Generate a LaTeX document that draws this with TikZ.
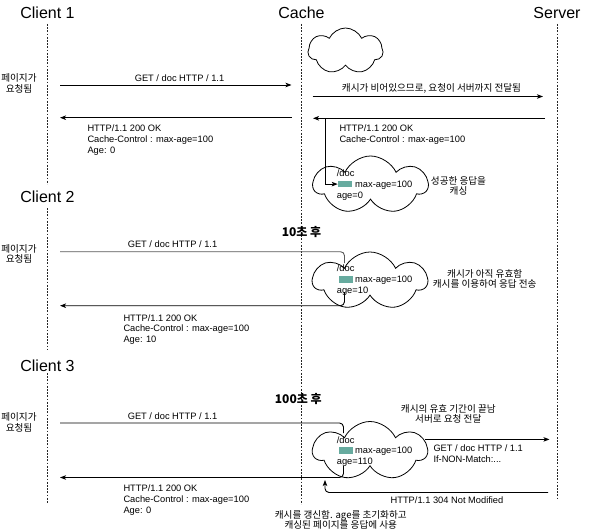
\documentclass[tikz,border=0pt]{standalone}
\usepackage{fontspec}
\setmainfont{Liberation Sans}
\newfontfamily\kr{Noto Sans CJK KR}
\usetikzlibrary{arrows.meta,shapes.symbols}
\definecolor{docgreen}{HTML}{67AB9F}
\tikzset{
  life/.style={draw=black!85, line width=0.6pt, dash pattern=on 1.8pt off 1.4pt},
  title/.style={font=\fontsize{16}{18}\selectfont, inner sep=0, anchor=base},
  lbl/.style={font=\fontsize{9.3}{11}\selectfont, inner sep=0, anchor=base west},
  clbl/.style={font=\fontsize{9.3}{11}\selectfont, inner sep=0, anchor=base},
  klbl/.style={font=\kr\fontsize{9.6}{11}\selectfont, inner sep=0, anchor=base},
  kbold/.style={font=\kr\bfseries\fontsize{12}{14}\selectfont, inner sep=0, anchor=base},
  tip/.style={-{Stealth[length=6pt,width=4.5pt,inset=1.5pt]}},
  msg/.style={draw=black, line width=0.9pt, tip},
  conn/.style={draw=black, line width=0.9pt},
  ccloud/.style={cloud, cloud puffs=7, cloud puff arc=130, cloud ignores aspect, draw=black, line width=0.8pt, fill=white, inner sep=0},
  docrect/.style={fill=docgreen, draw=none, minimum width=14pt, minimum height=6.8pt, inner sep=0, anchor=south west}
}
\begin{document}
\begin{tikzpicture}[x=1pt,y=-1pt]
\path[use as bounding box, fill=white] (0,0) rectangle (600,532);

% titles
\node[title] (t1) at (47.5,18.5) {Client 1};
\node[title] (tc) at (301.5,18.5) {Cache};
\node[title] (ts) at (557,18.5) {Server};
\node[title] (t2) at (47.5,203) {Client 2};
\node[title] (t3) at (47.5,371) {Client 3};

% lifelines
\coordinate (l1a) at (47.5,24);  \coordinate (l1b) at (47.5,184);
\coordinate (l2a) at (47.5,208); \coordinate (l2b) at (47.5,350);
\coordinate (l3a) at (47.5,373); \coordinate (l3b) at (47.5,503);
\coordinate (lca) at (301.5,24); \coordinate (lcb) at (301.5,504);
\coordinate (lsa) at (557,24);   \coordinate (lsb) at (557,500);
\draw[life] (l1a) -- (l1b);
\draw[life] (l2a) -- (l2b);
\draw[life] (l3a) -- (l3b);
\draw[life] (lca) -- (lcb);
\draw[life] (lsa) -- (lsb);

% clouds
\node[ccloud, minimum width=75pt, minimum height=46pt] (cl0) at (345.5,51) {};
\node[ccloud, minimum width=114pt, minimum height=58pt] (cl1) at (370.5,185) {};
\node[ccloud, minimum width=114pt, minimum height=58pt] (cl2) at (370,281) {};
\node[ccloud, minimum width=114pt, minimum height=59pt] (cl3) at (370,451) {};

% ---------------- Client 1 ----------------
\node[klbl] (p1a) at (19,82) {페이지가};
\node[klbl] (p1b) at (19,92.5) {요청됨};

\coordinate (g1s) at (60,85); \coordinate (g1e) at (291.5,85);
\draw[msg] (g1s) -- (g1e);
\node[clbl] (g1l) at (179.5,82) {GET / doc HTTP / 1.1};

\coordinate (r1s) at (291.5,117.7); \coordinate (r1e) at (60,117.7);
\draw[msg] (r1s) -- (r1e);
\node[lbl] (r1a) at (87.3,131.6) {HTTP/1.1 200 OK};
\node[lbl] (r1b) at (87.3,142.4) {Cache-Control : max-age=100};
\node[lbl] (r1c) at (87.3,153.2) {Age: 0};

\coordinate (f1s) at (312.5,96.5); \coordinate (f1e) at (543,96.5);
\draw[msg] (f1s) -- (f1e);
\node[klbl] (f1l) at (431.5,92) {캐시가 비어있으므로, 요청이 서버까지 전달됨};

\coordinate (s1s) at (545,118.3); \coordinate (s1e) at (313,118.3);
\draw[msg] (s1s) -- (s1e);
\node[lbl] (s1a) at (339.3,131.6) {HTTP/1.1 200 OK};
\node[lbl] (s1b) at (339.3,142.4) {Cache-Control : max-age=100};

\node[docrect] (d1) at (337.7,187.7) {};
\coordinate (v1s) at (325,118.3);
\draw[msg] (v1s) |- (d1.west);
\node[lbl] (d1a) at (336.7,176.7) {/doc};
\node[lbl] (d1b) at (355,187.5) {max-age=100};
\node[lbl] (d1c) at (336.7,198.3) {age=0};
\node[klbl] (k1a) at (458.5,184.3) {성공한 응답을};
\node[klbl] (k1b) at (458.5,194.5) {캐싱};

% ---------------- Client 2 ----------------
\node[kbold] (w10) at (301.5,236) {10초 후};
\node[klbl] (p2a) at (19,252) {페이지가};
\node[klbl] (p2b) at (19,262.5) {요청됨};

\coordinate (g2s) at (60,251.7); \coordinate (g2e) at (344.5,263);
\draw[conn, draw=black!65, rounded corners=4pt] (g2s) -| (g2e);
\node[clbl] (g2l) at (172.5,247.3) {GET / doc HTTP / 1.1};

\node[docrect] (d2) at (338.3,283.3) {};
\node[lbl] (d2a) at (336.7,271.7) {/doc};
\node[lbl] (d2b) at (355,282.5) {max-age=100};
\node[lbl] (d2c) at (336.7,293.3) {age=10};
\node[klbl] (k2a) at (484.7,277.5) {캐시가 아직 유효함};
\node[klbl] (k2b) at (484.7,287.5) {캐시를 이용하여 응답 전송};

\coordinate (r2s) at (344.5,292); \coordinate (r2e) at (60,305.7);
\draw[msg, rounded corners=4pt] (r2s) |- (r2e);
\node[lbl] (r2a) at (123.3,321) {HTTP/1.1 200 OK};
\node[lbl] (r2b) at (123.3,331.8) {Cache-Control : max-age=100};
\node[lbl] (r2c) at (123.3,342.6) {Age: 10};

% ---------------- Client 3 ----------------
\node[kbold] (w100) at (298.3,403) {100초 후};
\node[klbl] (p3a) at (19,420.5) {페이지가};
\node[klbl] (p3b) at (19,431) {요청됨};

\coordinate (g3s) at (60,423); \coordinate (g3e) at (343.5,433);
\draw[conn, rounded corners=4pt] (g3s) -| (g3e);
\node[clbl] (g3l) at (172.5,419) {GET / doc HTTP / 1.1};

\node[docrect] (d3) at (338.3,454) {};
\node[lbl] (d3a) at (336.7,443) {/doc};
\node[lbl] (d3b) at (355,453.8) {max-age=100};
\node[lbl] (d3c) at (336.7,464.6) {age=110};

\node[klbl] (k3a) at (448.3,412) {캐시의 유효 기간이 끝남};
\node[klbl] (k3b) at (448.3,422.5) {서버로 요청 전달};

\coordinate (f3s) at (425,439.4); \coordinate (f3e) at (549.5,439.4);
\draw[msg] (f3s) -- (f3e);
\node[lbl] (f3a) at (433.3,451.7) {GET / doc HTTP / 1.1};
\node[lbl] (f3b) at (433.3,462) {If-NON-Match:...};

\coordinate (n3s) at (548,492.5); \coordinate (n3e) at (325,480);
\draw[msg, rounded corners=4pt] (n3s) -| (n3e);
\node[clbl] (n3l) at (447,503) {HTTP/1.1 304 Not Modified};

\coordinate (r3s) at (343.5,466); \coordinate (r3e) at (60,477.5);
\draw[msg, rounded corners=4pt] (r3s) |- (r3e);
\node[lbl] (r3a) at (123.3,491.6) {HTTP/1.1 200 OK};
\node[lbl] (r3b) at (123.3,502.4) {Cache-Control : max-age=100};
\node[lbl] (r3c) at (123.3,513.2) {Age: 0};

\node[klbl] (k4a) at (340.8,518.5) {캐시를 갱신함. age를 초기화하고};
\node[klbl] (k4b) at (340.8,528) {캐싱된 페이지를 응답에 사용};
\end{tikzpicture}
\end{document}
